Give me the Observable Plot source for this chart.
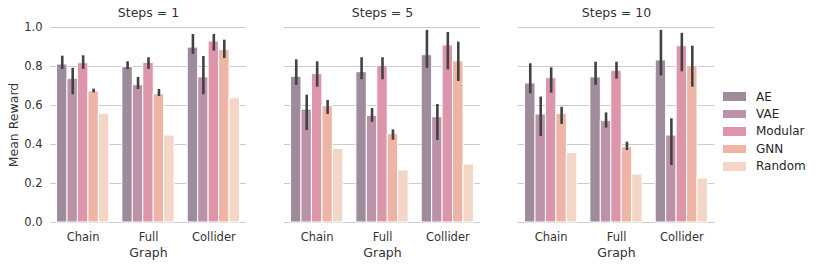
<!DOCTYPE html>
<html>
<head>
<meta charset="utf-8">
<script src="https://cdn.jsdelivr.net/npm/d3@7"></script>
<script src="https://cdn.jsdelivr.net/npm/@observablehq/plot@0.6"></script>
<style>
  html, body { margin: 0; padding: 0; background: white; }
  #wrap { position: relative; width: 817px; height: 265px; font-family: "DejaVu Sans", sans-serif; color: #262626; }
  #legend { position: absolute; left: 723px; top: 88px; font-size: 12px; }
  .row { display: flex; align-items: center; height: 17.4px; }
  .sw { width: 23px; height: 8.5px; margin-right: 10px; }
</style>
</head>
<body>
<div id="wrap"><div id="chart"></div><div id="legend"></div></div>
<script>
const steps = [1, 5, 10];
const graphs = ["Chain", "Full", "Collider"];
const models = ["AE", "VAE", "Modular", "GNN", "Random"];
const colors = ["#9e8b9c", "#bb92a8", "#dc95a9", "#eeb4a6", "#f4d6c7"];
const yTicks = [0, 0.2, 0.4, 0.6, 0.8, 1.0];

// values ordered graph-major (Chain, Full, Collider), model-minor
const mean1 = [0.810, 0.737, 0.817, 0.672, 0.557, 0.797, 0.704, 0.819, 0.658, 0.446, 0.897, 0.744, 0.928, 0.884, 0.637];
const lo1   = [0.785, 0.655, 0.785, 0.665, null,  0.783, 0.682, 0.785, 0.646, null,  0.862, 0.655, 0.879, 0.841, null];
const hi1   = [0.853, 0.791, 0.855, 0.684, null,  0.824, 0.744, 0.845, 0.682, null,  0.964, 0.851, 0.964, 0.935, null];

const mean5 = [0.747, 0.579, 0.761, 0.597, 0.378, 0.771, 0.547, 0.803, 0.453, 0.267, 0.858, 0.540, 0.908, 0.826, 0.297];
const lo5   = [0.703, 0.472, 0.694, 0.554, null,  0.732, 0.514, 0.732, 0.422, null,  0.791, 0.421, 0.783, 0.723, null];
const hi5   = [0.834, 0.653, 0.824, 0.626, null,  0.845, 0.585, 0.845, 0.475, null,  0.985, 0.605, 0.974, 0.925, null];

const mean10 = [0.713, 0.554, 0.740, 0.557, 0.357, 0.744, 0.520, 0.778, 0.386, 0.246, 0.831, 0.446, 0.904, 0.803, 0.226];
const lo10   = [0.660, 0.441, 0.663, 0.503, null,  0.703, 0.484, 0.735, 0.369, null,  0.752, 0.292, 0.773, 0.694, null];
const hi10   = [0.814, 0.643, 0.793, 0.591, null,  0.822, 0.562, 0.822, 0.412, null,  0.985, 0.532, 0.970, 0.904, null];

const means = [mean1, mean5, mean10];
const los = [lo1, lo5, lo10];
const his = [hi1, hi5, hi10];

const rows = [];
steps.forEach((s, si) => {
  graphs.forEach((g, gi) => {
    models.forEach((m, mi) => {
      const k = gi * models.length + mi;
      rows.push({steps: s, graph: g, model: m, gi, mi, value: means[si][k], lo: los[si][k], hi: his[si][k]});
    });
  });
});

const bw = 0.8 / models.length;
const x1 = d => d.gi - 0.4 + d.mi * bw;
const x2 = d => d.gi - 0.4 + (d.mi + 1) * bw;
const xc = d => d.gi - 0.4 + (d.mi + 0.5) * bw;

const chart = Plot.plot({
  width: 720,
  height: 265,
  marginLeft: 50,
  marginRight: 5,
  marginTop: 27,
  marginBottom: 43,
  style: {fontFamily: "DejaVu Sans", color: "#262626", background: "white"},
  fx: {domain: steps, paddingInner: 0.162, paddingOuter: 0, label: null, axis: null},
  x: {domain: [-0.5, 2.5], axis: null},
  y: {domain: [0, 1], axis: null},
  color: {domain: models, range: colors},
  marks: [
    Plot.gridY({ticks: yTicks, stroke: "#cccccc", strokeOpacity: 1, strokeWidth: 1}),
    Plot.rect(rows, {fx: "steps", x1, x2, y1: 0, y2: "value", fill: "model", stroke: "white", strokeWidth: 1}),
    Plot.ruleX(rows.filter(d => d.lo != null), {fx: "steps", x: xc, y1: "lo", y2: "hi", stroke: "#424242", strokeWidth: 2.6}),
    Plot.axisY({ticks: yTicks, tickFormat: d3.format(".1f"), tickSize: 0, tickPadding: 8,
                label: "Mean Reward", labelAnchor: "center", labelOffset: 41, labelArrow: "none"}),
    Plot.axisX({ticks: [0, 1, 2], tickFormat: i => graphs[i], tickSize: 0, tickPadding: 10, label: null}),
    Plot.axisFx({anchor: "top", tickFormat: d => `Steps = ${d}`, tickSize: 0, tickPadding: 11, label: null}),
    Plot.text(steps, {fx: d => d, text: () => "Graph", frameAnchor: "bottom", dy: 34})
  ]
});

const svg = d3.select(chart);
svg.selectAll("text").style("font-size", "11.5px").style("font-weight", "normal").style("fill", "#333333");
svg.selectAll("text").each(function() {
  const t = this.textContent;
  if (t.startsWith("Steps") || t === "Graph" || t.startsWith("Mean")) d3.select(this).style("font-size", "12.5px");
});
document.getElementById("chart").appendChild(chart);

const legend = document.getElementById("legend");
models.forEach((m, i) => {
  const row = document.createElement("div");
  row.className = "row";
  const sw = document.createElement("div");
  sw.className = "sw";
  sw.style.background = colors[i];
  const t = document.createElement("span");
  t.textContent = m;
  row.appendChild(sw);
  row.appendChild(t);
  legend.appendChild(row);
});
</script>
</body>
</html>
